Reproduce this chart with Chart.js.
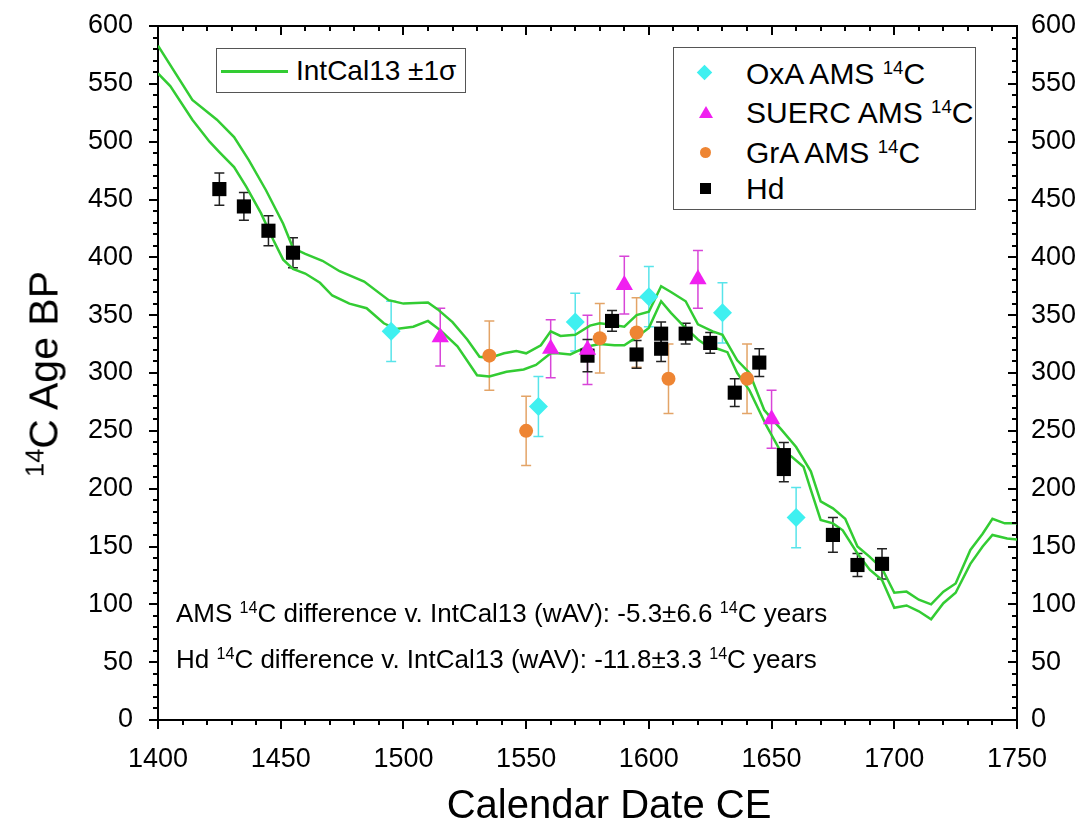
<!DOCTYPE html>
<html>
<head>
<meta charset="utf-8">
<script src="https://cdn.jsdelivr.net/npm/chart.js@4.4.1/dist/chart.umd.min.js"></script>
<style>
  body { margin: 0; background: #fff; }
  #wrap { position: relative; width: 1087px; height: 822px; font-family: "Liberation Sans", Arial, sans-serif; color: #000; }
  #chart { position: absolute; left: 0; top: 0; }
  .txt { position: absolute; white-space: nowrap; line-height: 1; }
  sup { font-size: 62%; vertical-align: 0; position: relative; top: -0.55em; }
  .box { position: absolute; border: 1.5px solid #555; background: #fff; box-sizing: border-box; }
  .mk { position: absolute; }
</style>
</head>
<body>
<div id="wrap">
  <canvas id="chart" width="1087" height="822"></canvas>

  <div class="txt" id="ytitle" style="left:44px; top:374px; font-size:41px; transform: translate(-50%,-50%) rotate(-90deg);"><sup>14</sup>C Age BP</div>
  <div class="txt" style="left:609px; top:804px; font-size:40px; transform: translate(-50%,-50%);">Calendar Date CE</div>

  <div class="box" style="left:216px; top:48px; width:250px; height:45px;">
    <div style="position:absolute; left:4px; top:21px; width:67px; height:2.5px; background:#33cc33;"></div>
    <div class="txt" style="left:79px; top:8px; font-size:28px;">IntCal13 ±1σ</div>
  </div>

  <div class="box" style="left:673px; top:47px; width:303px; height:163px;">
    <div class="mk" style="left:25px; top:19px; width:11px; height:11px; background:#3ff0f0; transform: rotate(45deg);"></div>
    <div class="mk" style="left:25px; top:58px; width:0; height:0; border-left:7px solid transparent; border-right:7px solid transparent; border-bottom:12px solid #f020f0;"></div>
    <div class="mk" style="left:26px; top:99px; width:11px; height:11px; border-radius:50%; background:#ee8533;"></div>
    <div class="mk" style="left:26px; top:135px; width:11px; height:11px; background:#000;"></div>
    <div class="txt" style="left:72px; top:11px; font-size:30px;">OxA AMS <sup>14</sup>C</div>
    <div class="txt" style="left:72px; top:50px; font-size:30px;">SUERC AMS <sup>14</sup>C</div>
    <div class="txt" style="left:72px; top:90px; font-size:30px;">GrA AMS <sup>14</sup>C</div>
    <div class="txt" style="left:72px; top:126px; font-size:30px;">Hd</div>
  </div>

  <div class="txt" style="left:176px; top:600px; font-size:26px;">AMS <sup>14</sup>C difference v. IntCal13 (wAV): -5.3±6.6 <sup>14</sup>C years</div>
  <div class="txt" style="left:176px; top:646px; font-size:26px;">Hd <sup>14</sup>C difference v. IntCal13 (wAV): -11.8±3.3 <sup>14</sup>C years</div>
</div>

<script>
// IntCal13 +/- 1 sigma envelope
const upperYears = [1400,1414,1424,1431,1437,1444,1451,1455,1460,1467,1474,1484,1494,1500,1510,1514,1520,1526,1531,1535,1541,1546,1550,1556,1560,1564,1570,1576,1580,1584,1590,1595,1600,1605,1609,1615,1620,1626,1630,1636,1641,1647,1654,1660,1666,1670,1675,1680,1685,1690,1695,1700,1705,1710,1715,1720,1725,1731,1736,1740,1745,1750];
const upperAge = [583,536,519,504,484,458,429,408,403,397,388,379,363,360,361,355,344,329,314,313,317,319,317,324,336,332,333,341,343,342,340,350,353,375,370,362,342,336,333,311,300,268,251,236,215,189,183,174,150,141,131,110,111,104,100,111,118,147,161,174,170,170];
const lowerYears = [1400,1405,1414,1421,1425,1431,1436,1442,1447,1451,1455,1460,1466,1471,1478,1485,1492,1497,1504,1510,1515,1522,1530,1535,1542,1549,1554,1560,1563,1568,1575,1580,1586,1590,1595,1600,1605,1609,1614,1620,1624,1628,1632,1636,1641,1648,1654,1658,1663,1666,1670,1675,1679,1685,1690,1695,1700,1705,1710,1715,1720,1725,1731,1736,1740,1746,1750];
const lowerAge = [559,548,519,500,491,478,461,438,415,398,390,386,378,367,360,356,343,338,340,345,337,323,298,297,301,303,307,317,317,316,323,325,324,324,331,339,362,352,341,329,323,321,318,300,285,254,231,228,219,199,173,170,164,144,130,121,97,99,94,87,101,110,135,150,160,157,156];

// measurements
const oxaYears = [1495, 1555, 1570, 1600, 1630, 1660];
const oxaAge = [336, 271, 344, 366, 352, 175];
const oxaErr = [26, 26, 25, 26, 26, 26];

const suercYears = [1515, 1560, 1575, 1590, 1620, 1650];
const suercAge = [331, 321, 320, 376, 381, 260];
const suercErr = [25, 25, 30, 25, 25, 25];

const graYears = [1535, 1550, 1580, 1595, 1608, 1640];
const graAge = [315, 250, 330, 335, 295, 295];
const graErr = [30, 30, 30, 30, 30, 30];

const hdYears = [1425, 1435, 1445, 1455, 1575, 1585, 1595, 1605, 1605, 1615, 1625, 1635, 1645, 1655, 1655, 1675, 1685, 1695];
const hdAge = [459, 444, 423, 404, 315, 345, 316, 334, 321, 334, 326, 283, 309, 229, 217, 160, 134, 135];
const hdErr = [14, 12, 13, 13, 14, 9, 12, 10, 11, 9, 9, 12, 12, 11, 11, 15, 10, 13];

const xTicks = [1400, 1450, 1500, 1550, 1600, 1650, 1700, 1750];
const yTicks = [0, 50, 100, 150, 200, 250, 300, 350, 400, 450, 500, 550, 600];

const green = '#33cc33';

function pts(xs, ys) {
  return xs.map((x, i) => ({ x: x, y: ys[i] }));
}

const errorBars = {
  id: 'errorBars',
  beforeDatasetsDraw(chart) {
    const ctx = chart.ctx;
    const ys = chart.scales.y;
    chart.data.datasets.forEach((ds, i) => {
      if (!ds.errors) return;
      const meta = chart.getDatasetMeta(i);
      ctx.save();
      ctx.strokeStyle = ds.errorColor;
      ctx.lineWidth = 1.5;
      meta.data.forEach((pt, j) => {
        const v = ds.data[j].y, e = ds.errors[j];
        const top = ys.getPixelForValue(v + e);
        const bot = ys.getPixelForValue(v - e);
        ctx.beginPath();
        ctx.moveTo(pt.x, top); ctx.lineTo(pt.x, bot);
        ctx.moveTo(pt.x - 5, top); ctx.lineTo(pt.x + 5, top);
        ctx.moveTo(pt.x - 5, bot); ctx.lineTo(pt.x + 5, bot);
        ctx.stroke();
      });
      ctx.restore();
    });
  }
};

// ticks: out on left/bottom, in on top/right, minor every 10
const frameTicks = {
  id: 'frameTicks',
  afterDraw(chart) {
    const ctx = chart.ctx;
    const a = chart.chartArea;
    const xs = chart.scales.x, ys = chart.scales.y;
    ctx.save();
    ctx.strokeStyle = '#000';
    ctx.lineWidth = 2;
    ctx.beginPath();
    for (let v = xs.min; v <= xs.max; v += 10) {
      const p = Math.round(xs.getPixelForValue(v));
      const len = v % 50 === 0 ? 9 : 5;
      ctx.moveTo(p, a.bottom); ctx.lineTo(p, a.bottom + len);
      ctx.moveTo(p, a.top); ctx.lineTo(p, a.top + len);
    }
    for (let v = ys.min; v <= ys.max; v += 10) {
      const p = Math.round(ys.getPixelForValue(v));
      const len = v % 50 === 0 ? 9 : 5;
      ctx.moveTo(a.left, p); ctx.lineTo(a.left - len, p);
      ctx.moveTo(a.right, p); ctx.lineTo(a.right - len, p);
    }
    ctx.stroke();
    ctx.restore();
  }
};

const tickFont = { family: '"Liberation Sans", Arial, sans-serif', size: 27 };
const frame = { display: true, color: '#000', width: 2 };
const plain = v => String(v);

new Chart(document.getElementById('chart'), {
  type: 'scatter',
  data: {
    datasets: [
      { label: 'OxA AMS 14C', data: pts(oxaYears, oxaAge), errors: oxaErr, errorColor: '#58e4ea',
        pointStyle: 'rectRot', pointRadius: 9.5, backgroundColor: '#3ff0f0', borderWidth: 0 },
      { label: 'SUERC AMS 14C', data: pts(suercYears, suercAge), errors: suercErr, errorColor: '#d845d8',
        pointStyle: 'triangle', pointRadius: 10, backgroundColor: '#f020f0', borderWidth: 0 },
      { label: 'GrA AMS 14C', data: pts(graYears, graAge), errors: graErr, errorColor: '#e3a467',
        pointStyle: 'circle', pointRadius: 7, backgroundColor: '#ee8533', borderWidth: 0 },
      { label: 'Hd', data: pts(hdYears, hdAge), errors: hdErr, errorColor: '#222',
        pointStyle: 'rect', pointRadius: 10, backgroundColor: '#000', borderWidth: 0 },
      { label: 'IntCal13 +1s', data: pts(upperYears, upperAge), showLine: true, pointRadius: 0,
        borderColor: green, borderWidth: 2.5, fill: false },
      { label: 'IntCal13 -1s', data: pts(lowerYears, lowerAge), showLine: true, pointRadius: 0,
        borderColor: green, borderWidth: 2.5, fill: false }
    ]
  },
  options: {
    responsive: false,
    animation: false,
    devicePixelRatio: 1,
    layout: { padding: 0 },
    plugins: { legend: { display: false }, tooltip: { enabled: false } },
    scales: {
      x: {
        type: 'linear', position: 'bottom', min: 1400, max: 1750,
        afterFit: s => { s.height = 102; },
        afterBuildTicks: s => { s.ticks = xTicks.map(v => ({ value: v })); },
        ticks: { font: tickFont, color: '#000', padding: 15, maxRotation: 0, callback: plain },
        grid: { display: false }, border: frame
      },
      x2: {
        type: 'linear', position: 'top', min: 1400, max: 1750,
        afterFit: s => { s.height = 26; },
        ticks: { display: false }, grid: { display: false }, border: frame
      },
      y: {
        type: 'linear', position: 'left', min: 0, max: 600,
        afterFit: s => { s.width = 158; s.paddingTop = 0; s.paddingBottom = 0; },
        afterBuildTicks: s => { s.ticks = yTicks.map(v => ({ value: v })); },
        ticks: { font: tickFont, color: '#000', padding: 17, callback: plain },
        grid: { display: false }, border: frame
      },
      y2: {
        type: 'linear', position: 'right', min: 0, max: 600,
        afterFit: s => { s.width = 70; s.paddingTop = 0; s.paddingBottom = 0; },
        afterBuildTicks: s => { s.ticks = yTicks.map(v => ({ value: v })); },
        ticks: { font: tickFont, color: '#000', padding: 6, callback: plain },
        grid: { display: false }, border: frame
      }
    }
  },
  plugins: [errorBars, frameTicks]
});
</script>
</body>
</html>
